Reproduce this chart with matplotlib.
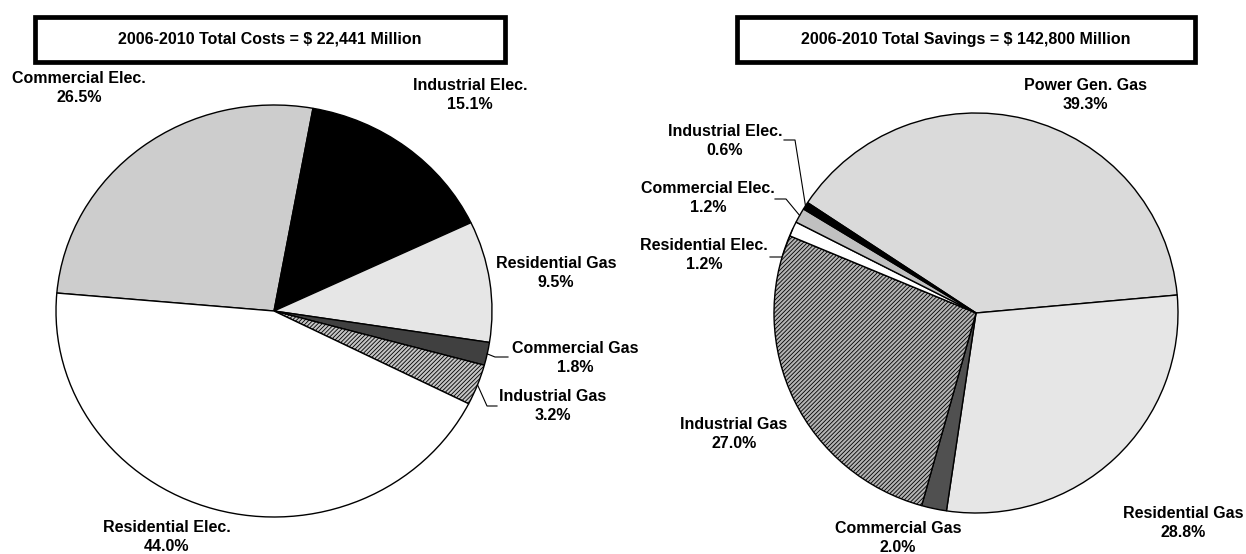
import matplotlib
matplotlib.use("Agg")
import matplotlib.pyplot as plt
import numpy as np
from matplotlib.patches import Rectangle
from matplotlib.lines import Line2D

W, H = 1246, 554

# ---------------- data ----------------
cost_labels = ["Commercial Elec.", "Industrial Elec.", "Residential Gas",
               "Commercial Gas", "Industrial Gas", "Residential Elec."]
cost_values = [26.5, 15.1, 9.5, 1.8, 3.2, 44.0]
cost_title = "2006-2010 Total Costs = $ 22,441 Million"

save_labels = ["Power Gen. Gas", "Residential Gas", "Commercial Gas",
               "Industrial Gas", "Residential Elec.", "Commercial Elec.",
               "Industrial Elec."]
save_values = [39.3, 28.8, 2.0, 27.0, 1.2, 1.2, 0.6]
save_title = "2006-2010 Total Savings = $ 142,800 Million"

# ---------------- styles ----------------
cost_colors = ["#cdcdcd", "#000000", "#e6e6e6", "#404040", "#c4c4c4", "#ffffff"]
cost_hatch = [None, None, None, None, "////////", None]
save_colors = ["#dadada", "#e6e6e6", "#505050", "#b4b4b4", "#ffffff", "#c0c0c0", "#000000"]
save_hatch = [None, None, None, "////////", None, None, None]

plt.rcParams["font.family"] = ["Liberation Sans", "DejaVu Sans"]
plt.rcParams["hatch.linewidth"] = 0.6

fig = plt.figure(figsize=(W / 100, H / 100), dpi=100)


def fx(x):
    return x / W


def fy(y):
    return 1 - y / H


def make_pie(cx, cy, rx, ry, values, colors, hatches, start):
    ax = fig.add_axes([fx(cx - rx), fy(cy + ry), 2 * rx / W, 2 * ry / H])
    wedges, _ = ax.pie(values, colors=colors, startangle=start, counterclock=False,
                       wedgeprops=dict(edgecolor="black", linewidth=1.0),
                       normalize=True)
    for w, h in zip(wedges, hatches):
        if h:
            w.set_hatch(h)
    ax.set_aspect("auto")
    ax.set_xlim(-1, 1)
    ax.set_ylim(-1, 1)
    ax.axis("off")
    return ax, wedges


def edge_point(ax, wedge, frac=1.0):
    ang = np.deg2rad((wedge.theta1 + wedge.theta2) / 2)
    p = ax.transData.transform((frac * np.cos(ang), frac * np.sin(ang)))
    return fig.transFigure.inverted().transform(p)


FS = 11.5


def label(x, y, name, val):
    fig.text(fx(x), fy(y), f"{name}\n{val:.1f}%", ha="center", va="center",
             fontsize=FS, fontweight="bold", linespacing=1.35)


def leader(ax, wedge, pts):
    p0 = edge_point(ax, wedge)
    xs = [p0[0]] + [fx(p[0]) for p in pts]
    ys = [p0[1]] + [fy(p[1]) for p in pts]
    fig.add_artist(Line2D(xs, ys, color="black", linewidth=0.8,
                          transform=fig.transFigure))


def title_box(x0, y0, x1, y1, text):
    fig.add_artist(Rectangle((fx(x0), fy(y1)), (x1 - x0) / W, (y1 - y0) / H,
                             transform=fig.transFigure, facecolor="white",
                             edgecolor="black", linewidth=3.4))
    fig.text(fx((x0 + x1) / 2), fy((y0 + y1) / 2), text, ha="center", va="center",
             fontsize=FS, fontweight="bold")


# ---------------- left pie ----------------
axL, wL = make_pie(274, 311, 218, 206, cost_values, cost_colors, cost_hatch, 175)
label(79, 88, cost_labels[0], cost_values[0])
label(470, 95, cost_labels[1], cost_values[1])
label(556, 273, cost_labels[2], cost_values[2])
label(575, 358, cost_labels[3], cost_values[3])
label(553, 406, cost_labels[4], cost_values[4])
label(167, 537, cost_labels[5], cost_values[5])
leader(axL, wL[3], [(495, 357), (508, 357)])
leader(axL, wL[4], [(487, 406), (497, 406)])
title_box(35, 17, 505, 62, cost_title)

# ---------------- right pie ----------------
axR, wR = make_pie(976, 313, 202, 200, save_values, save_colors, save_hatch, 146.5)
label(1085, 95, save_labels[0], save_values[0])
label(1183, 523, save_labels[1], save_values[1])
label(898, 538, save_labels[2], save_values[2])
label(734, 434, save_labels[3], save_values[3])
label(704, 255, save_labels[4], save_values[4])
label(708, 198, save_labels[5], save_values[5])
label(725, 141, save_labels[6], save_values[6])
leader(axR, wR[6], [(795, 140), (784, 140)])
leader(axR, wR[5], [(786, 199), (775, 199)])
leader(axR, wR[4], [(782, 257), (770, 257)])
title_box(737, 17, 1195, 62, save_title)

fig.savefig("out.png", dpi=100)
